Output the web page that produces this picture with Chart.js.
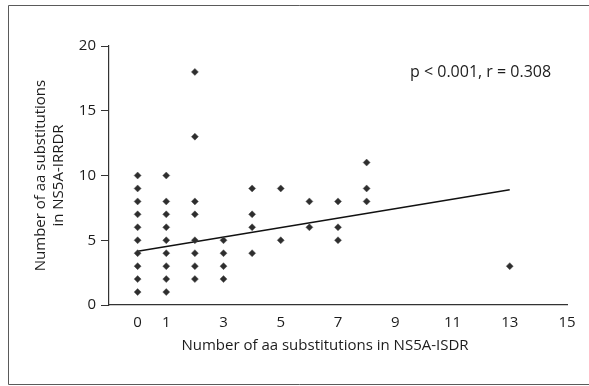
<!DOCTYPE html>
<html>
<head>
<meta charset="utf-8">
<script src="https://cdn.jsdelivr.net/npm/chart.js@4/dist/chart.umd.min.js"></script>
<style>
  html, body { margin: 0; padding: 0; background: #fff; }
  #wrap { position: relative; width: 589px; height: 386px; }
</style>
</head>
<body>
<div id="wrap"><canvas id="c" width="589" height="386"></canvas></div>
<script>
// valores (columna x -> sustituciones en IRRDR)
const xTicks = [0, 1, 3, 5, 7, 9, 11, 13, 15];
const ptsX = [
  0, 0, 0, 0, 0, 0, 0, 0, 0, 0,
  1, 1, 1, 1, 1, 1, 1, 1, 1,
  2, 2, 2, 2, 2, 2, 2, 2,
  3, 3, 3, 3,
  4, 4, 4, 4,
  5, 5,
  6, 6,
  7, 7, 7,
  8, 8, 8,
  13,
];
const ptsY = [
  1, 2, 3, 4, 5, 6, 7, 8, 9, 10,
  1, 2, 3, 4, 5, 6, 7, 8, 10,
  2, 3, 4, 5, 7, 8, 13, 18,
  2, 3, 4, 5,
  4, 6, 7, 9,
  5, 9,
  6, 8,
  5, 6, 8,
  8, 9, 11,
  3,
];
// recta de regresión (extremos leídos)
const fitX = [0, 13];
const fitY = [4.15, 8.9];
const statsLabel = 'p < 0.001, r = 0.308';
const xTitle = 'Number of aa substitutions in NS5A-ISDR';
const yTitle = ['Number of aa substitutions', 'in NS5A-IRRDR'];

const FONT = "'Open Sans', 'DejaVu Sans', sans-serif";
const INK = '#1c1c1c';

// marco del recuadro, título X (no centrado en el área) y texto estadístico
const extras = {
  id: 'extras',
  afterDraw(chart) {
    const { ctx } = chart;
    ctx.save();
    ctx.strokeStyle = '#5a5a5a';
    ctx.lineWidth = 1;
    ctx.beginPath();
    ctx.moveTo(600, 5.5); ctx.lineTo(8.5, 5.5); ctx.lineTo(8.5, 384.5); ctx.lineTo(600, 384.5);
    ctx.stroke();
    ctx.fillStyle = INK;
    ctx.textBaseline = 'middle';
    ctx.font = `15px ${FONT}`;
    ctx.textAlign = 'center';
    ctx.fillText(xTitle, 325, 346);
    ctx.font = `16px ${FONT}`;
    ctx.textAlign = 'left';
    ctx.fillText(statsLabel, 410, 72);
    ctx.restore();
  },
};

new Chart(document.getElementById('c'), {
  data: {
    datasets: [
      {
        type: 'scatter',
        data: ptsX.map((x, i) => ({ x, y: ptsY[i] })),
        pointStyle: 'rectRot',
        pointRadius: 3.5,
        pointBackgroundColor: '#2e2e2e',
        pointBorderColor: '#555',
        pointBorderWidth: 0.5,
        order: 1,
      },
      {
        type: 'line',
        data: fitX.map((x, i) => ({ x, y: fitY[i] })),
        borderColor: '#111',
        borderWidth: 1.3,
        pointRadius: 0,
        fill: false,
        order: 2,
      },
    ],
  },
  options: {
    responsive: false,
    animation: false,
    layout: { padding: { top: 46, right: 22, left: 0, bottom: 0 } },
    plugins: { legend: { display: false }, tooltip: { enabled: false } },
    scales: {
      x: {
        type: 'linear', min: -1, max: 15,
        afterBuildTicks: (s) => { s.ticks = xTicks.map((v) => ({ value: v })); },
        afterFit: (s) => { s.height = 81; },
        grid: { drawOnChartArea: false, drawTicks: false },
        border: { color: '#333', width: 1.2 },
        ticks: { color: INK, font: { family: FONT, size: 15 }, padding: 9, autoSkip: false, maxRotation: 0 },
      },
      y: {
        type: 'linear', min: 0, max: 20,
        ticks: { stepSize: 5, color: INK, font: { family: FONT, size: 15 }, padding: 5 },
        afterFit: (s) => { s.width = 109; },
        grid: { drawOnChartArea: false, drawTicks: true, tickLength: 8, color: '#333' },
        border: { color: '#333', width: 1.2 },
        title: {
          display: true, text: yTitle,
          color: INK, font: { family: FONT, size: 15 }, padding: { top: 32 },
        },
      },
    },
  },
  plugins: [extras],
});
</script>
</body>
</html>
